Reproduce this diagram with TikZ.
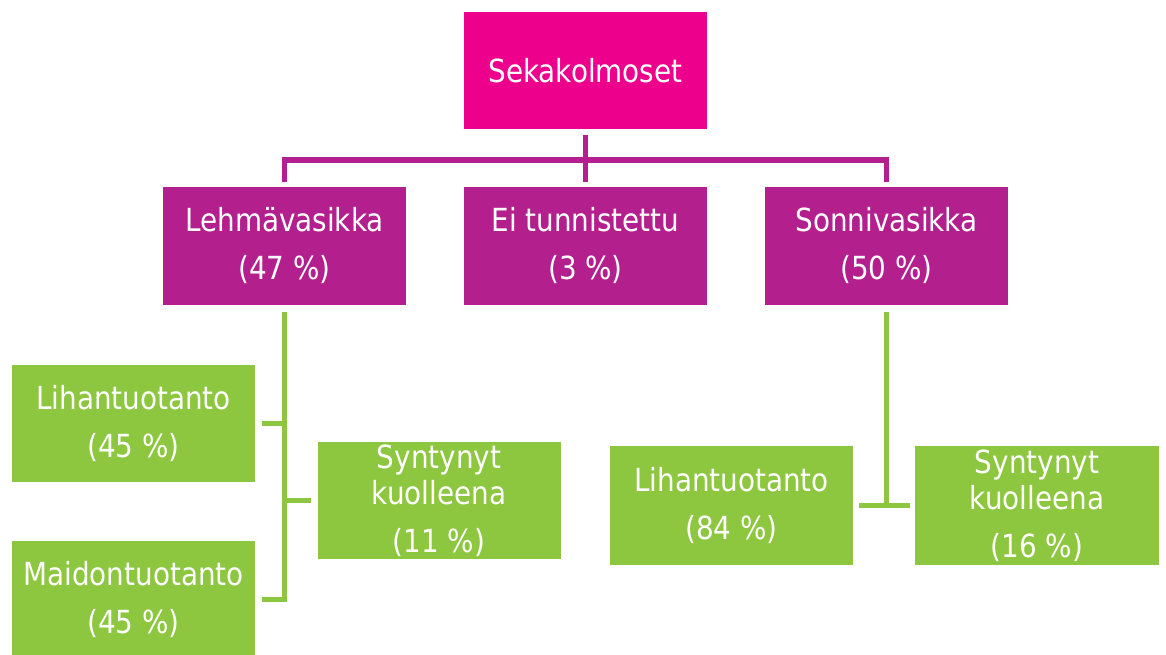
\documentclass[tikz,border=0pt]{standalone}
\usepackage{fontspec}
\setmainfont{DejaVu Sans}[FakeStretch=0.875]
\definecolor{magtop}{HTML}{EC008C}
\definecolor{purp}{HTML}{B41F8E}
\definecolor{grn}{HTML}{8DC63F}
\begin{document}
\begin{tikzpicture}[x=1pt,y=-1pt,
  box/.style={rectangle, draw=none, text=white, align=center, inner sep=0pt,
    minimum width=243pt, minimum height=118pt, font=\fontsize{31.8}{48}\selectfont},
  topbox/.style={box, fill=magtop},
  pbox/.style={box, fill=purp},
  gbox/.style={box, fill=grn},
  pconn/.style={draw=purp, line width=5.5pt},
  gconn/.style={draw=grn, line width=5pt}]
\useasboundingbox (0,0) rectangle (1166,655);
% boxes
\node[topbox, minimum height=117pt] (sek) at (585.5,70.5) {Sekakolmoset};
\node[pbox] (leh) at (284.5,246) {Lehmävasikka\\(47 \%)};
\node[pbox] (ei)  at (585.5,246) {Ei tunnistettu\\(3 \%)};
\node[pbox] (son) at (886.5,246) {Sonnivasikka\\(50 \%)};
\node[gbox, minimum height=117pt] (lih1) at (133.5,423.5) {Lihantuotanto\\(45 \%)};
\node[gbox, minimum height=117pt] (syn1) at (439,500.5) {Syntynyt\\[-12pt]kuolleena\\(11 \%)};
\node[gbox, minimum height=117pt] (mai) at (133.5,599.5) {Maidontuotanto\\(45 \%)};
\node[gbox, minimum height=119pt] (lih2) at (731.5,505.5) {Lihantuotanto\\(84 \%)};
\node[gbox, minimum height=119pt, minimum width=244pt] (syn2) at (1037,505.5) {Syntynyt\\[-12pt]kuolleena\\(16 \%)};
% purple connectors
\coordinate (bus) at (585.5,160);
\draw[pconn] ([yshift=-6pt]sek.south) -- (sek.south |- bus);
\draw[pconn] ([yshift=5pt]leh.north) -- (leh.north |- bus) -- (son.north |- bus) -- ([yshift=5pt]son.north);
\draw[pconn] (ei.north |- bus) -- ([yshift=5pt]ei.north);
% green connectors left
\draw[gconn] ([yshift=-7pt]leh.south) -- (leh.south |- mai.east) -- ([xshift=7pt]mai.east);
\draw[gconn] ([xshift=7pt]lih1.east) -- (lih1.east -| leh.south);
\draw[gconn] (syn1.west -| leh.south) -- ([xshift=-6pt]syn1.west);
% green connectors right
\draw[gconn] ([yshift=-7pt]son.south) -- (son.south |- lih2.east);
\draw[gconn] ([xshift=6pt]lih2.east) -- ([xshift=-5pt]syn2.west);
\end{tikzpicture}
\end{document}
